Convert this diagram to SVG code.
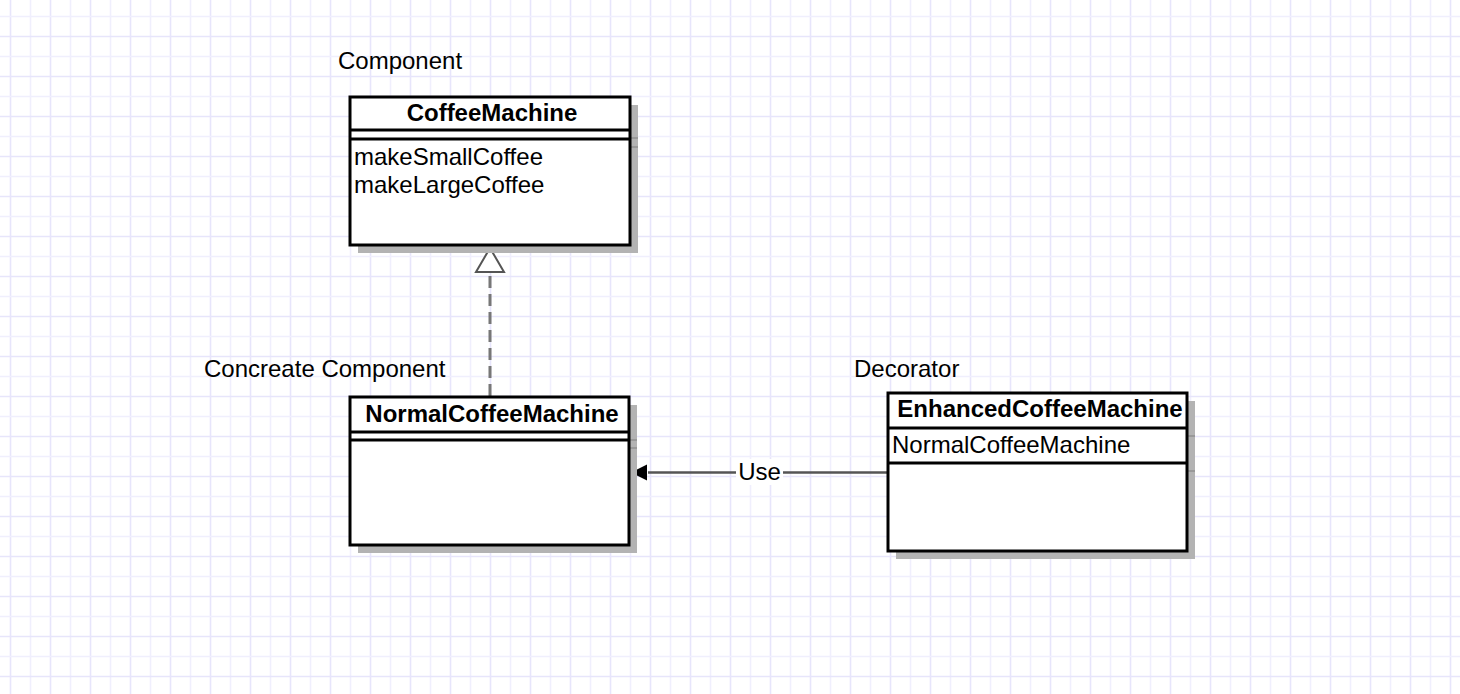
<svg xmlns="http://www.w3.org/2000/svg" width="1460" height="694" viewBox="0 0 1460 694">
<defs>
<pattern id="grid" width="40" height="40" patternUnits="userSpaceOnUse">
<line x1="10.5" y1="0" x2="10.5" y2="40" stroke="#e7e5fb" stroke-width="1.6"/>
<line x1="30.5" y1="0" x2="30.5" y2="40" stroke="#f0effd" stroke-width="1.6"/>
<line x1="0" y1="36.5" x2="40" y2="36.5" stroke="#e7e5fb" stroke-width="1.6"/>
<line x1="0" y1="16.5" x2="40" y2="16.5" stroke="#f0effd" stroke-width="1.6"/>
</pattern>
</defs>
<style>
.box{fill:#fff;stroke:#000;stroke-width:3}
.sep{stroke:#000;stroke-width:3}
.shadow{fill:#b3b3b3}
.shsep{stroke:#999;stroke-width:2}
.t{font-family:"Liberation Sans",Arial,sans-serif;font-size:24px;fill:#000}
.b{font-weight:bold;text-anchor:middle}
</style>
<rect width="1460" height="694" fill="#fff"/>
<rect width="1460" height="694" fill="url(#grid)"/>

<text class="t" x="338" y="69">Component</text>
<text class="t" x="204" y="377">Concreate Component</text>
<text class="t" x="854" y="377">Decorator</text>

<g id="connectors">
<line x1="490" y1="396" x2="490" y2="274" stroke="#777" stroke-width="3" stroke-dasharray="12,6"/>
<polygon points="490,248 476,272 504,272" fill="#fff" stroke="#555" stroke-width="2"/>
<line x1="887" y1="472.5" x2="648" y2="472.5" stroke="#555" stroke-width="2.5"/>
<polygon points="631,472.5 647,464.5 647,480.5" fill="#000"/>
<rect x="736" y="459" width="47" height="26" fill="#fff"/>
<text class="t" x="759.5" y="479.5" text-anchor="middle">Use</text>
</g>

<g id="CoffeeMachine">
<rect class="shadow" x="358" y="105" width="280" height="148"/>
<line class="shsep" x1="630" y1="138" x2="638" y2="138"/>
<line class="shsep" x1="630" y1="147" x2="638" y2="147"/>
<rect class="box" x="350" y="97" width="280" height="148"/>
<line class="sep" x1="350" y1="130" x2="630" y2="130"/>
<line class="sep" x1="350" y1="139" x2="630" y2="139"/>
<text class="t b" x="492" y="121">CoffeeMachine</text>
<text class="t" x="354" y="165">makeSmallCoffee</text>
<text class="t" x="354" y="193">makeLargeCoffee</text>
</g>

<g id="NormalCoffeeMachine">
<rect class="shadow" x="358" y="405" width="279" height="148"/>
<line class="shsep" x1="629" y1="440" x2="637" y2="440"/>
<line class="shsep" x1="629" y1="448" x2="637" y2="448"/>
<rect class="box" x="350" y="397" width="279" height="148"/>
<line class="sep" x1="350" y1="432" x2="629" y2="432"/>
<line class="sep" x1="350" y1="440" x2="629" y2="440"/>
<text class="t b" x="492" y="422">NormalCoffeeMachine</text>
</g>

<g id="EnhancedCoffeeMachine">
<rect class="shadow" x="896" y="401" width="299" height="158"/>
<line class="shsep" x1="1187" y1="436" x2="1195" y2="436"/>
<line class="shsep" x1="1187" y1="471" x2="1195" y2="471"/>
<rect class="box" x="888" y="393" width="299" height="158"/>
<line class="sep" x1="888" y1="428" x2="1187" y2="428"/>
<line class="sep" x1="888" y1="463" x2="1187" y2="463"/>
<text class="t b" x="1040" y="417">EnhancedCoffeeMachine</text>
<text class="t" x="892" y="453">NormalCoffeeMachine</text>
</g>
</svg>
